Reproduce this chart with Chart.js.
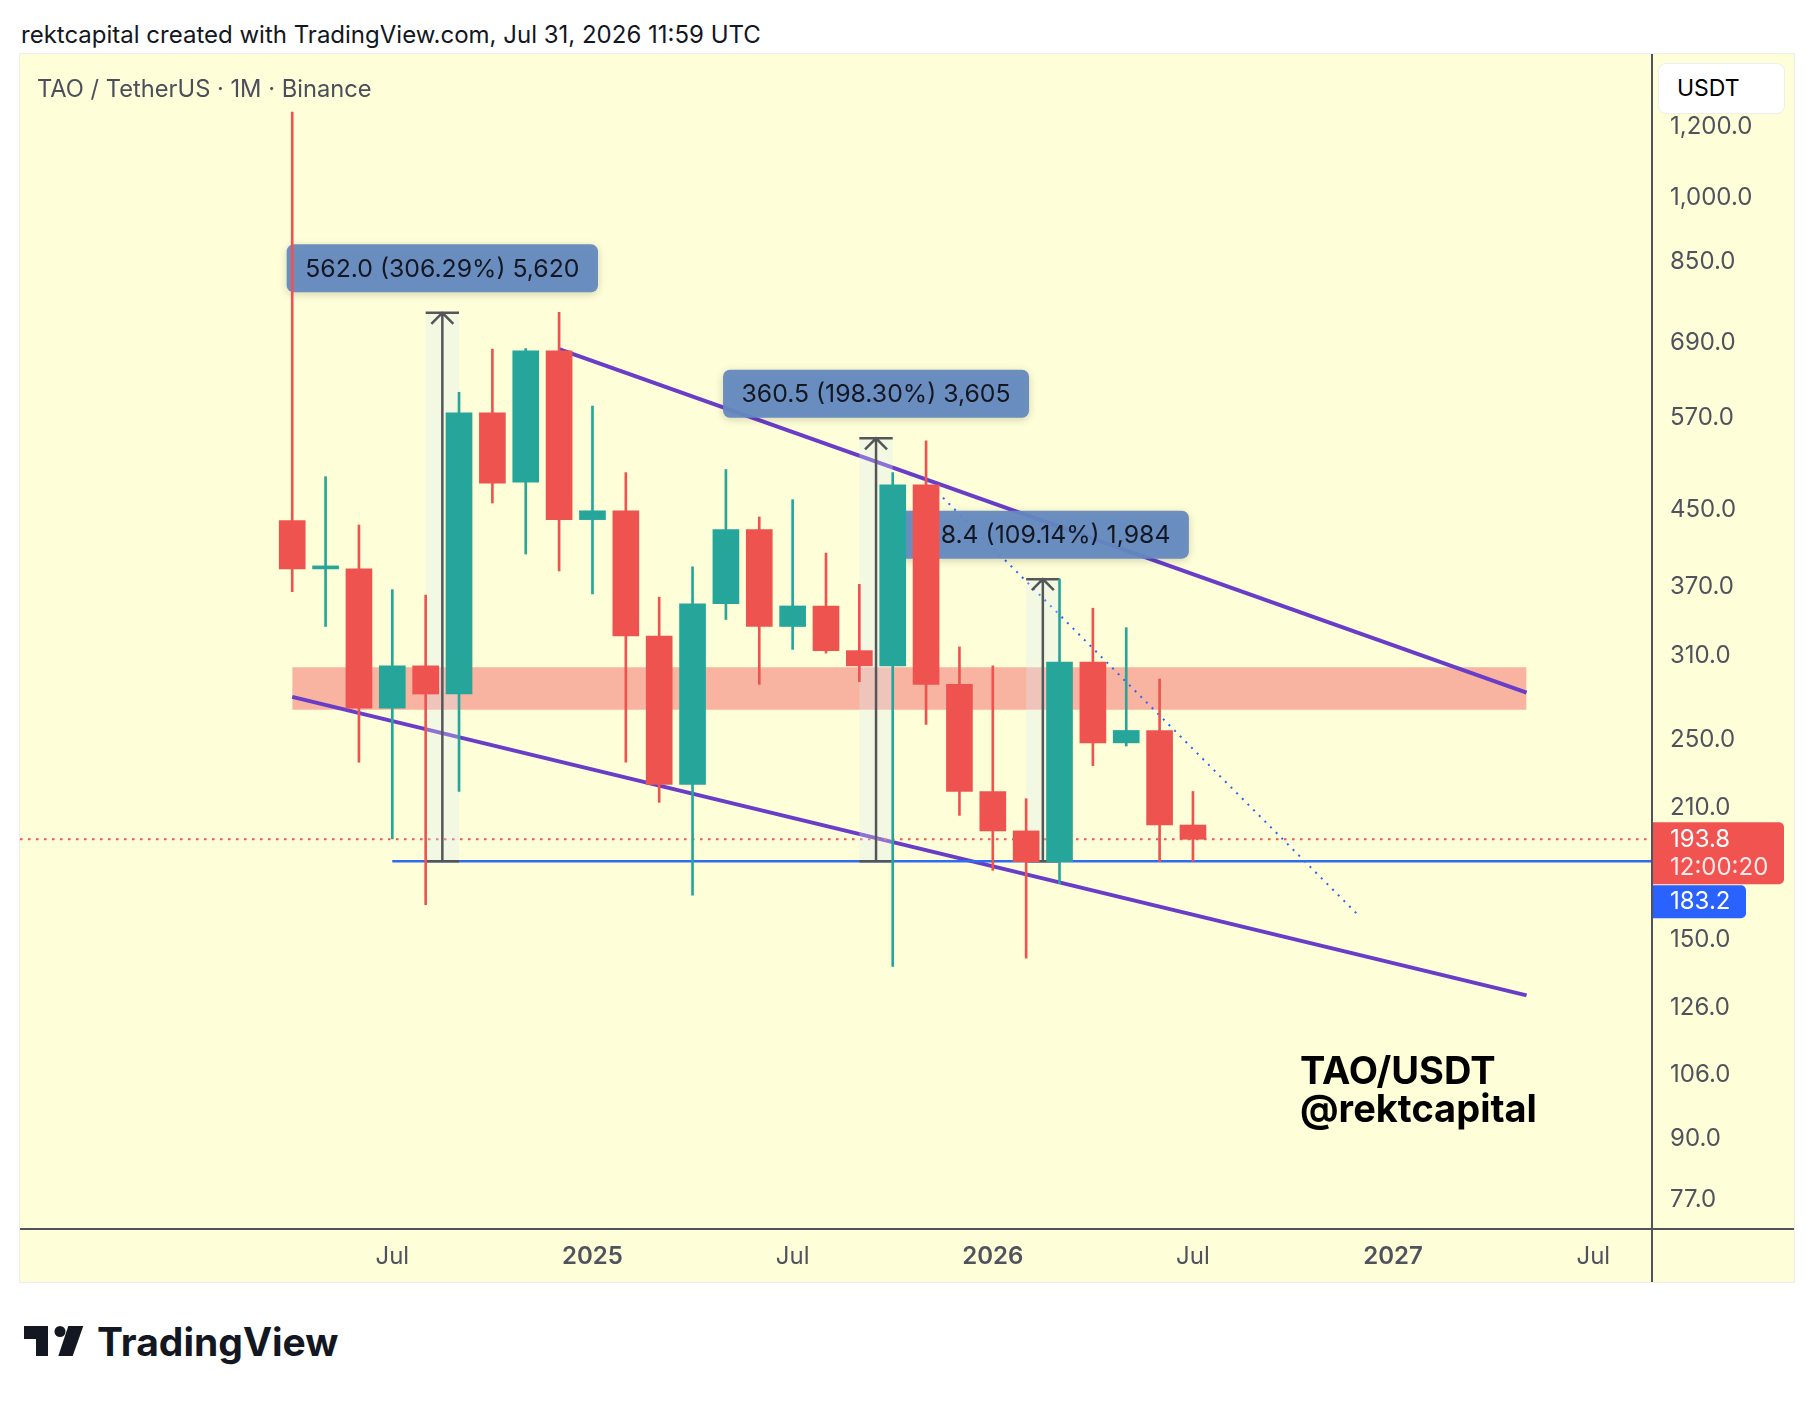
<!DOCTYPE html>
<html>
<head>
<meta charset="utf-8">
<script src="https://cdn.jsdelivr.net/npm/chart.js@4.4.1/dist/chart.umd.min.js"></script>
<style>
  body { margin: 0; background: #fff; width: 1814px; height: 1402px; position: relative; overflow: hidden; font-family: Inter, "Liberation Sans", sans-serif; }
  #hdr { position: absolute; left: 21px; top: 21px; font-size: 24px; line-height: 28px; color: #131722; white-space: nowrap; }
  #panel { position: absolute; left: 20px; top: 54px; width: 1774px; height: 1228px; background: #fefed8; outline: 1px solid #ececec; }
  #panel canvas { display: block; }
  #legend { position: absolute; left: 37px; top: 75px; font-size: 23.7px; line-height: 28px; color: #4b4f5b; white-space: nowrap; }
  #unit { position: absolute; left: 1658px; top: 63px; width: 127px; height: 51px; box-sizing: border-box; background: #fff; border: 1px solid #eee; border-radius: 8px; font: 23px Inter, sans-serif; line-height: 49px; padding-left: 18px; color: #000; }
  #wm { position: absolute; left: 1300px; top: 1051px; font: 700 38px Inter, sans-serif; line-height: 38px; color: #000; white-space: nowrap; }
  #logo { position: absolute; left: 24px; top: 1318px; }
</style>
</head>
<body>
<div id="hdr">rektcapital created with TradingView.com, Jul 31, 2026 11:59 UTC</div>
<div id="panel"><canvas id="c" width="1774" height="1228"></canvas></div>
<div id="legend">TAO / TetherUS · 1M · Binance</div>
<div id="unit">USDT</div>
<div id="wm">TAO/USDT<br>@rektcapital</div>
<svg id="logo" width="340" height="50" viewBox="0 0 340 50">
  <g transform="translate(0,8)" fill="#131722">
    <path d="M0 0 H24 V30 H12 V13 H0 Z"/>
    <circle cx="36" cy="5.5" r="5.5"/>
    <path d="M44.3 0 H59.3 L48.7 30 H34.3 Z"/>
    <text x="73" y="30" font-family="Inter, Liberation Sans, sans-serif" font-weight="700" font-size="39">TradingView</text>
  </g>
</svg>

<script>
// monthly candles, index 0 = Apr 2024
const months = ['Apr 2024','May 2024','Jun 2024','Jul 2024','Aug 2024','Sep 2024','Oct 2024','Nov 2024','Dec 2024',
  'Jan 2025','Feb 2025','Mar 2025','Apr 2025','May 2025','Jun 2025','Jul 2025','Aug 2025','Sep 2025','Oct 2025','Nov 2025','Dec 2025',
  'Jan 2026','Feb 2026','Mar 2026','Apr 2026','May 2026','Jun 2026','Jul 2026'];
const opens  = [438, 387, 387, 271, 302, 281, 577, 483, 676, 439, 449, 326, 223, 354, 428, 334, 352, 314, 302, 480, 288, 219, 198, 183, 305, 248, 256, 201];
const highs  = [1245, 490, 433, 367, 362, 608, 679, 680, 746, 587, 495, 360, 389, 499, 442, 462, 403, 372, 495, 537, 317, 302, 215, 377, 350, 333, 292, 219];
const lows   = [365, 334, 236, 194, 164, 219, 458, 402, 385, 363, 236, 213, 168, 340, 288, 315, 312, 290, 140, 260, 206, 179, 143, 173, 234, 246, 183, 183.2];
const closes = [387, 389, 271, 302, 281, 577, 482, 676, 439, 449, 326, 223, 354, 428, 334, 352, 314, 302, 480, 288, 219, 198, 183, 305, 248, 256, 201, 193.8];

const lastPrice = 193.8;
const lastTimer = '12:00:20';
const supportPrice = 183.2;

// price axis and time axis labels
const priceTicks = [77, 90, 106, 126, 150, 210, 250, 310, 370, 450, 570, 690, 850, 1000, 1200];
const timeTickIdx = [3, 9, 15, 21, 27, 33, 39];
const timeTickLabels = ['Jul', '2025', 'Jul', '2026', 'Jul', '2027', 'Jul'];

// drawings (month index, price)
const zoneFrom = 0, zoneTo = 37, zoneHigh = 301, zoneLow = 270;
const upperTrendX = [8, 37], upperTrendY = [679, 282];
const lowerTrendX = [0, 37], lowerTrendY = [279, 130];
const dottedTrendX = [19, 32], dottedTrendY = [485, 159];
const measFrom = [4, 17, 22];
const measTo = [5, 18, 23];
const measBase = [183.2, 183.2, 183.2];
const measTop = [745, 540.5, 377];
const measText = ['562.0 (306.29%) 5,620', '360.5 (198.30%) 3,605', '188.4 (109.14%) 1,984'];

const UP = '#26a69a', DOWN = '#ef5350';
const candleColors = opens.map((o, i) => closes[i] >= o ? UP : DOWN);
const xMin = -8.16, xMax = 40.73;
const AXIS_FONT = '24px Inter, sans-serif';

const bodies = opens.map((o, i) => ({ x: i, y: [o, closes[i]] }));
const wicks = lows.map((l, i) => ({ x: i, y: [l, highs[i]] }));
const pts = (xs, ys) => xs.map((x, i) => ({ x: x, y: ys[i] }));

const WICK_DS = 1;

const decor = {
  id: 'decor',
  beforeDatasetDraw(chart, args) {
    if (args.index !== WICK_DS) return;
    const { ctx, scales: { x, y } } = chart;
    ctx.save();
    measFrom.forEach((f, i) => {
      const x0 = x.getPixelForValue(f), x1 = x.getPixelForValue(measTo[i]);
      const cx = (x0 + x1) / 2;
      const yt = y.getPixelForValue(measTop[i]), yb = y.getPixelForValue(measBase[i]);
      ctx.fillStyle = 'rgba(217,234,249,0.3)';
      ctx.fillRect(x0, yt, x1 - x0, yb - yt);
      ctx.strokeStyle = '#555659';
      ctx.lineWidth = 2.5;
      ctx.beginPath();
      ctx.moveTo(x0, yt); ctx.lineTo(x1, yt);
      ctx.moveTo(x0, yb); ctx.lineTo(x1, yb);
      ctx.moveTo(cx, yb); ctx.lineTo(cx, yt);
      ctx.moveTo(cx - 11, yt + 11); ctx.lineTo(cx, yt); ctx.lineTo(cx + 11, yt + 11);
      ctx.stroke();
    });
    ctx.font = '24.8px Inter, sans-serif';
    measFrom.forEach((f, i) => {
      const cx = (x.getPixelForValue(f) + x.getPixelForValue(measTo[i])) / 2;
      const yt = y.getPixelForValue(measTop[i]);
      const w = ctx.measureText(measText[i]).width + 37, h = 48;
      const bx = cx - w / 2, by = yt - 20.5 - h;
      ctx.save();
      ctx.shadowColor = 'rgba(0,0,0,0.18)';
      ctx.shadowBlur = 8;
      ctx.shadowOffsetY = 2;
      ctx.fillStyle = 'rgba(100,137,191,0.95)';
      ctx.beginPath();
      ctx.roundRect(bx, by, w, h, 7);
      ctx.fill();
      ctx.restore();
      ctx.fillStyle = '#131722';
      ctx.textAlign = 'center';
      ctx.textBaseline = 'middle';
      ctx.fillText(measText[i], cx, by + h / 2 + 1);
    });
    ctx.restore();
  },
  afterDraw(chart) {
    const { ctx, chartArea: a, scales: { y } } = chart;
    ctx.save();
    ctx.strokeStyle = '#50535e';
    ctx.lineWidth = 2;
    ctx.beginPath();
    ctx.moveTo(a.right + 1, 0); ctx.lineTo(a.right + 1, chart.height);
    ctx.moveTo(0, a.bottom + 1); ctx.lineTo(chart.width, a.bottom + 1);
    ctx.stroke();

    const yr = y.getPixelForValue(lastPrice);
    const lx = a.right + 2;
    ctx.fillStyle = '#f05350';
    ctx.beginPath();
    ctx.roundRect(lx, yr - 17, 131, 62, [0, 5, 5, 0]);
    ctx.fill();
    ctx.fillStyle = '#2962ff';
    ctx.beginPath();
    ctx.roundRect(lx, yr + 46, 93, 33, [0, 5, 5, 0]);
    ctx.fill();
    ctx.font = AXIS_FONT;
    ctx.textAlign = 'left';
    ctx.textBaseline = 'middle';
    ctx.fillStyle = '#fff';
    ctx.fillText(lastPrice.toFixed(1), a.right + 19, yr + 1);
    ctx.fillText(supportPrice.toFixed(1), a.right + 19, yr + 63);
    ctx.fillStyle = 'rgba(255,255,255,0.88)';
    ctx.fillText(lastTimer, a.right + 19, yr + 29);
    ctx.restore();
  }
};

const lineDs = (data, color, width, dash, order) => ({
  type: 'line', data: data, borderColor: color, borderWidth: width, borderDash: dash,
  pointRadius: 0, fill: false, order: order, tension: 0
});

new Chart(document.getElementById('c'), {
  type: 'bar',
  data: {
    datasets: [
      { data: bodies, backgroundColor: candleColors, barThickness: 26, minBarLength: 3, grouped: false, order: 0 },
      { data: wicks, backgroundColor: candleColors, barThickness: 2, grouped: false, order: 1 },
      lineDs(pts([xMin, xMax], [lastPrice, lastPrice]), DOWN, 2, [2.5, 5.5], 2),
      lineDs(pts([3, xMax], [supportPrice, supportPrice]), '#2f6cf0', 2.5, [], 3),
      lineDs(pts(dottedTrendX, dottedTrendY), '#2962ff', 2, [2, 6], 4),
      lineDs(pts(upperTrendX, upperTrendY), '#6a3dc9', 4, [], 5),
      lineDs(pts(lowerTrendX, lowerTrendY), '#6a3dc9', 4, [], 6),
      { type: 'line', data: pts([zoneFrom, zoneTo], [zoneHigh, zoneHigh]), borderWidth: 0, pointRadius: 0,
        backgroundColor: '#f8b4a0', fill: '+1', order: 8 },
      { type: 'line', data: pts([zoneFrom, zoneTo], [zoneLow, zoneLow]), borderWidth: 0, pointRadius: 0,
        fill: false, order: 9 }
    ]
  },
  options: {
    responsive: false,
    devicePixelRatio: 1,
    animation: false,
    events: [],
    layout: { padding: 0 },
    plugins: { legend: { display: false }, tooltip: { enabled: false } },
    scales: {
      x: {
        type: 'linear', min: xMin, max: xMax, offset: false,
        grid: { display: false, drawTicks: false }, border: { display: false },
        afterBuildTicks: s => { s.ticks = timeTickIdx.map(v => ({ value: v })); },
        afterFit: s => { s.height = 54; s.paddingLeft = 0; s.paddingRight = 0; },
        ticks: {
          autoSkip: false, maxRotation: 0, padding: 14, color: '#50535e',
          callback: v => timeTickLabels[timeTickIdx.indexOf(v)],
          font: c => ({ family: 'Inter', size: 24, weight: /^\d/.test(timeTickLabels[c.index] || '') ? '600' : '400' })
        }
      },
      y: {
        type: 'logarithmic', position: 'right', min: 71.7, max: 1444.5,
        grid: { display: false, drawTicks: false }, border: { display: false },
        afterBuildTicks: s => { s.ticks = priceTicks.map(v => ({ value: v })); },
        afterFit: s => { s.width = 143; s.paddingTop = 0; s.paddingBottom = 0; },
        ticks: {
          autoSkip: false, padding: 19, color: '#50535e',
          font: { family: 'Inter', size: 24 },
          callback: v => Number(v).toLocaleString('en-US', { minimumFractionDigits: 1, maximumFractionDigits: 1 })
        }
      }
    }
  },
  plugins: [decor]
});
</script>
</body>
</html>
